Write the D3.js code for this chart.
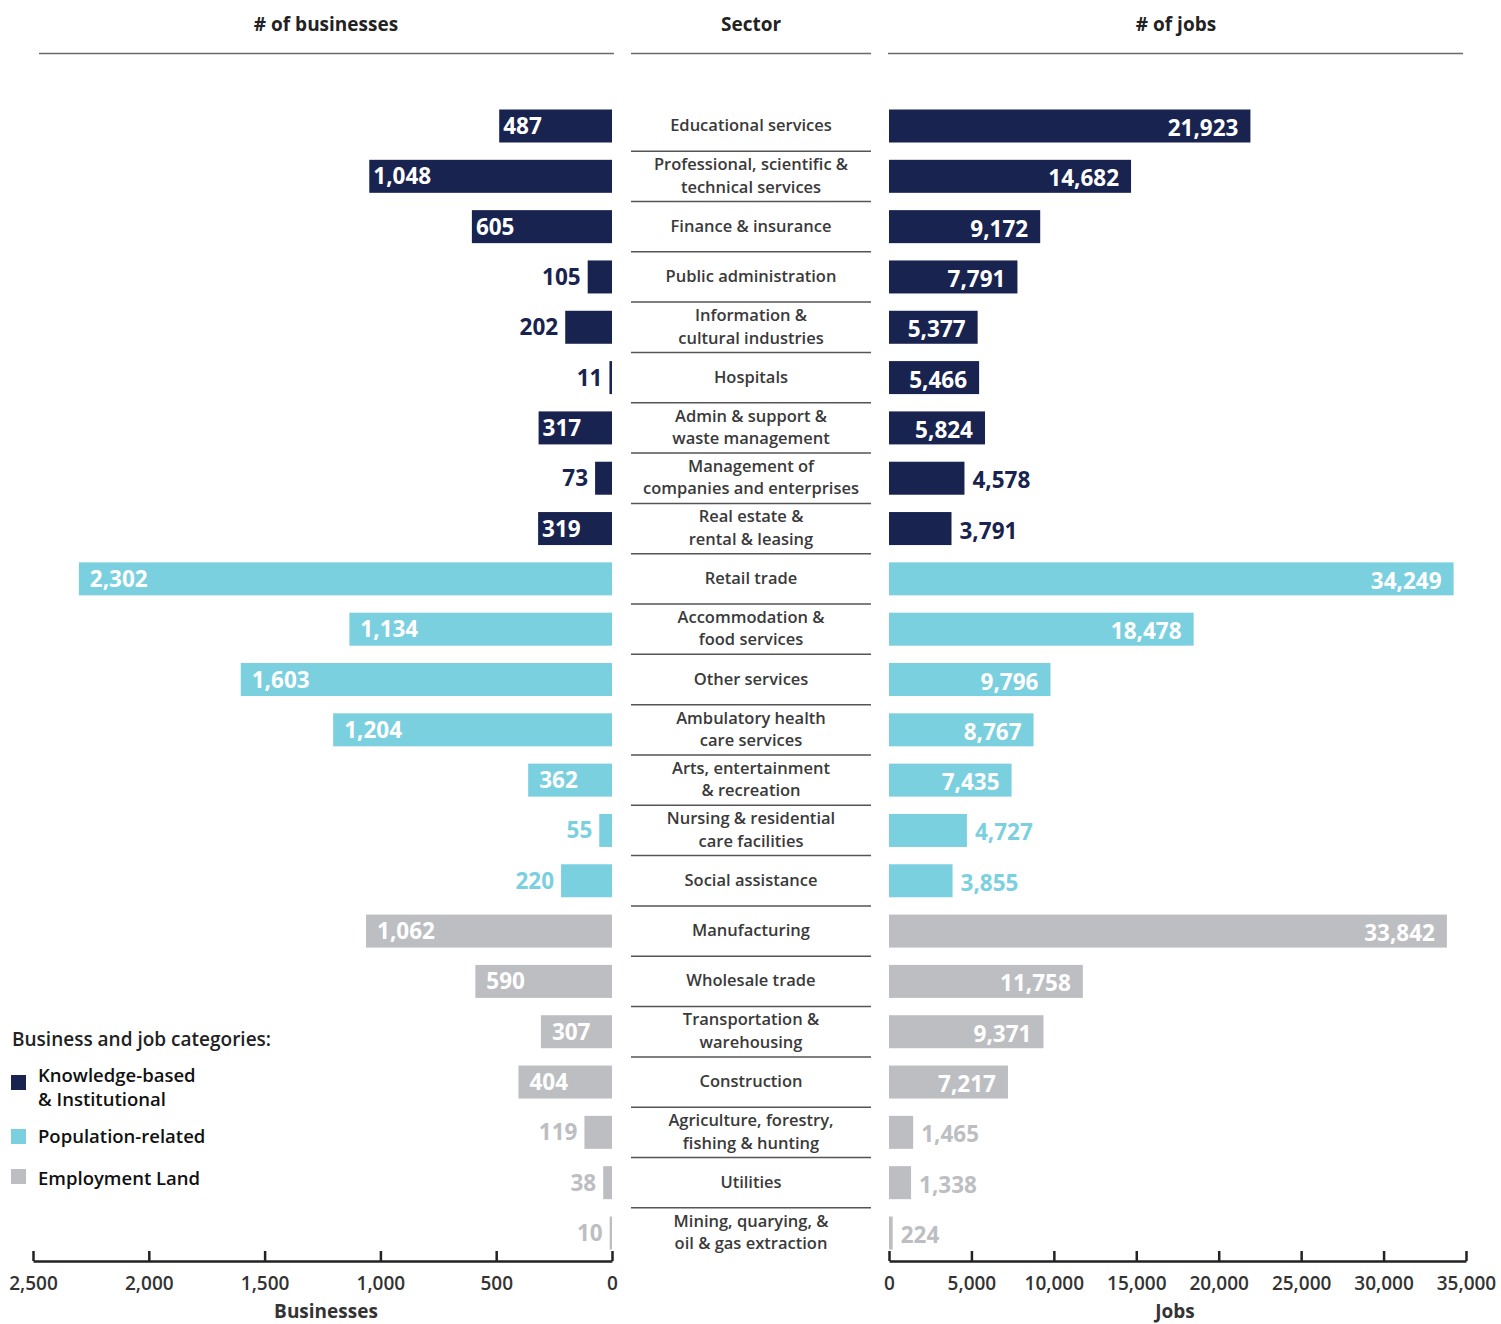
<!DOCTYPE html>
<html lang="en">
<head>
    <meta charset="UTF-8">
    <title>Businesses and jobs by sector</title>
    <script src="https://d3js.org/d3.v7.min.js"></script>
    <style>
        body { margin: 0; background: #fff; }
        svg text { font-family: "Open Sans", "Noto Sans", sans-serif; }
    </style>
</head>
<body>
<div id="chart"></div>

<script>
    // sector labels, "|" marks a line break
    let sectors = [
        "Educational services",
        "Professional, scientific &|technical services",
        "Finance & insurance",
        "Public administration",
        "Information &|cultural industries",
        "Hospitals",
        "Admin & support &|waste management",
        "Management of|companies and enterprises",
        "Real estate &|rental & leasing",
        "Retail trade",
        "Accommodation &|food services",
        "Other services",
        "Ambulatory health|care services",
        "Arts, entertainment|& recreation",
        "Nursing & residential|care facilities",
        "Social assistance",
        "Manufacturing",
        "Wholesale trade",
        "Transportation &|warehousing",
        "Construction",
        "Agriculture, forestry,|fishing & hunting",
        "Utilities",
        "Mining, quarying, &|oil & gas extraction"
    ];

    let categories = [
        "Knowledge-based & Institutional", "Knowledge-based & Institutional", "Knowledge-based & Institutional",
        "Knowledge-based & Institutional", "Knowledge-based & Institutional", "Knowledge-based & Institutional",
        "Knowledge-based & Institutional", "Knowledge-based & Institutional", "Knowledge-based & Institutional",
        "Population-related", "Population-related", "Population-related", "Population-related",
        "Population-related", "Population-related", "Population-related",
        "Employment Land", "Employment Land", "Employment Land", "Employment Land",
        "Employment Land", "Employment Land", "Employment Land"
    ];

    let businesses = [487, 1048, 605, 105, 202, 11, 317, 73, 319,
        2302, 1134, 1603, 1204, 362, 55, 220,
        1062, 590, 307, 404, 119, 38, 10];

    let jobs = [21923, 14682, 9172, 7791, 5377, 5466, 5824, 4578, 3791,
        34249, 18478, 9796, 8767, 7435, 4727, 3855,
        33842, 11758, 9371, 7217, 1465, 1338, 224];

    let legendNames = ["Knowledge-based|& Institutional", "Population-related", "Employment Land"];
    let categoryNames = ["Knowledge-based & Institutional", "Population-related", "Employment Land"];
    let categoryColors = ["#19234f", "#7bd0df", "#bdbec2"];

    let businessTicks = [2500, 2000, 1500, 1000, 500, 0];
    let jobTicks = [0, 5000, 10000, 15000, 20000, 25000, 30000, 35000];

    let data = sectors.map((s, i) => ({
        sector: s, category: categories[i], businesses: businesses[i], jobs: jobs[i]
    }));

    let width = 1501, height = 1324;
    let color = d3.scaleOrdinal().domain(categoryNames).range(categoryColors);
    let fmt = d3.format(",");

    let svg = d3.select("#chart").append("svg")
        .attr("width", width)
        .attr("height", height);

    let xB = d3.scaleLinear().domain([2500, 0]).range([33, 612]);
    let xJ = d3.scaleLinear().domain([0, 35000]).range([889, 1466]);
    let y = d3.scalePoint().domain(sectors).range([126, 1233]);
    let step = y.step();
    let barH = 33;

    // headers
    let headers = [
        {text: "# of businesses", x: 326, x0: 39, x1: 614},
        {text: "Sector", x: 751, x0: 631, x1: 871},
        {text: "# of jobs", x: 1176, x0: 888, x1: 1463}
    ];
    svg.selectAll(".header")
        .data(headers)
        .enter()
        .append("text")
        .attr("x", d => d.x)
        .attr("y", 31)
        .attr("text-anchor", "middle")
        .attr("font-size", "19px")
        .attr("font-weight", 700)
        .attr("fill", "#222")
        .text(d => d.text);
    svg.selectAll(".header-line")
        .data(headers)
        .enter()
        .append("line")
        .attr("x1", d => d.x0)
        .attr("x2", d => d.x1)
        .attr("y1", 53.5)
        .attr("y2", 53.5)
        .attr("stroke", "#6a6a6a")
        .attr("stroke-width", 1.5);

    // separators in the sector column
    svg.selectAll(".sep")
        .data(sectors.slice(0, -1))
        .enter()
        .append("line")
        .attr("x1", 631)
        .attr("x2", 871)
        .attr("y1", d => y(d) + step / 2)
        .attr("y2", d => y(d) + step / 2)
        .attr("stroke", "#555")
        .attr("stroke-width", 1.5);

    // sector labels
    let labels = svg.selectAll(".sector")
        .data(data)
        .enter()
        .append("text")
        .attr("text-anchor", "middle")
        .attr("font-size", "16.5px")
        .attr("font-weight", 600)
        .attr("fill", "#3a3a3a");
    labels.each(function(d) {
        let lines = d.sector.split("|");
        let t = d3.select(this);
        lines.forEach((line, k) => {
            t.append("tspan")
                .attr("x", 751)
                .attr("y", y(d.sector) + 5 + (k - (lines.length - 1) / 2) * 22.5)
                .text(line);
        });
    });

    // business bars (left)
    svg.selectAll(".bbar")
        .data(data)
        .enter()
        .append("rect")
        .attr("x", d => xB(d.businesses))
        .attr("y", d => y(d.sector) - barH / 2)
        .attr("width", d => xB(0) - xB(d.businesses))
        .attr("height", barH)
        .attr("fill", d => color(d.category));

    svg.selectAll(".blabel")
        .data(data)
        .enter()
        .append("text")
        .attr("x", d => d.businesses < 300 ? xB(d.businesses) - 7
            : xB(d.businesses) + (d.category === categoryNames[0] ? 4 : 11))
        .attr("y", d => y(d.sector) + 8)
        .attr("text-anchor", d => d.businesses < 300 ? "end" : "start")
        .attr("font-size", "22.5px")
        .attr("font-weight", 700)
        .attr("fill", d => d.businesses < 300 ? color(d.category) : "#fff")
        .text(d => fmt(d.businesses));

    // job bars (right)
    svg.selectAll(".jbar")
        .data(data)
        .enter()
        .append("rect")
        .attr("x", xJ(0))
        .attr("y", d => y(d.sector) - barH / 2)
        .attr("width", d => xJ(d.jobs) - xJ(0))
        .attr("height", barH)
        .attr("fill", d => color(d.category));

    svg.selectAll(".jlabel")
        .data(data)
        .enter()
        .append("text")
        .attr("x", d => d.jobs < 5000 ? xJ(d.jobs) + 8 : xJ(d.jobs) - 12)
        .attr("y", d => y(d.sector) + 10)
        .attr("text-anchor", d => d.jobs < 5000 ? "start" : "end")
        .attr("font-size", "22.5px")
        .attr("font-weight", 700)
        .attr("fill", d => d.jobs < 5000 ? color(d.category) : "#fff")
        .text(d => fmt(d.jobs));

    // axes
    let axisY = 1261;
    let axisB = svg.append("g")
        .attr("transform", `translate(0,${axisY})`)
        .call(d3.axisBottom(xB).tickValues(businessTicks).tickFormat(fmt)
            .tickSizeInner(-10).tickSizeOuter(0).tickPadding(16));
    let axisJ = svg.append("g")
        .attr("transform", `translate(0,${axisY})`)
        .call(d3.axisBottom(xJ).tickValues(jobTicks).tickFormat(fmt)
            .tickSizeInner(-10).tickSizeOuter(0).tickPadding(16));
    [axisB, axisJ].forEach(g => {
        g.select(".domain").attr("stroke", "#222").attr("stroke-width", 2.5);
        g.selectAll(".tick line").attr("stroke", "#222").attr("stroke-width", 2.5);
        g.selectAll(".tick text")
            .attr("font-family", "Open Sans, Noto Sans, sans-serif")
            .attr("font-size", "19px")
            .attr("font-weight", 600)
            .attr("fill", "#333");
    });

    svg.append("text")
        .attr("x", 326).attr("y", 1318)
        .attr("text-anchor", "middle")
        .attr("font-size", "19px").attr("font-weight", 700).attr("fill", "#333")
        .text("Businesses");
    svg.append("text")
        .attr("x", 1175).attr("y", 1318)
        .attr("text-anchor", "middle")
        .attr("font-size", "19px").attr("font-weight", 700).attr("fill", "#333")
        .text("Jobs");

    // legend
    let legend = svg.append("g");
    legend.append("text")
        .attr("x", 12).attr("y", 1046)
        .attr("font-size", "19px").attr("font-weight", 600).attr("fill", "#222")
        .text("Business and job categories:");
    let swatchY = [1075, 1129, 1169];
    let textY = [1082, 1143, 1185];
    legendNames.forEach((name, i) => {
        legend.append("rect")
            .attr("x", 11).attr("y", swatchY[i])
            .attr("width", 15).attr("height", 15)
            .attr("fill", categoryColors[i]);
        let t = legend.append("text")
            .attr("font-size", "18.5px").attr("font-weight", 600).attr("fill", "#111");
        name.split("|").forEach((line, k) => {
            t.append("tspan").attr("x", 38).attr("y", textY[i] + k * 24).text(line);
        });
    });
</script>

</body>
</html>
